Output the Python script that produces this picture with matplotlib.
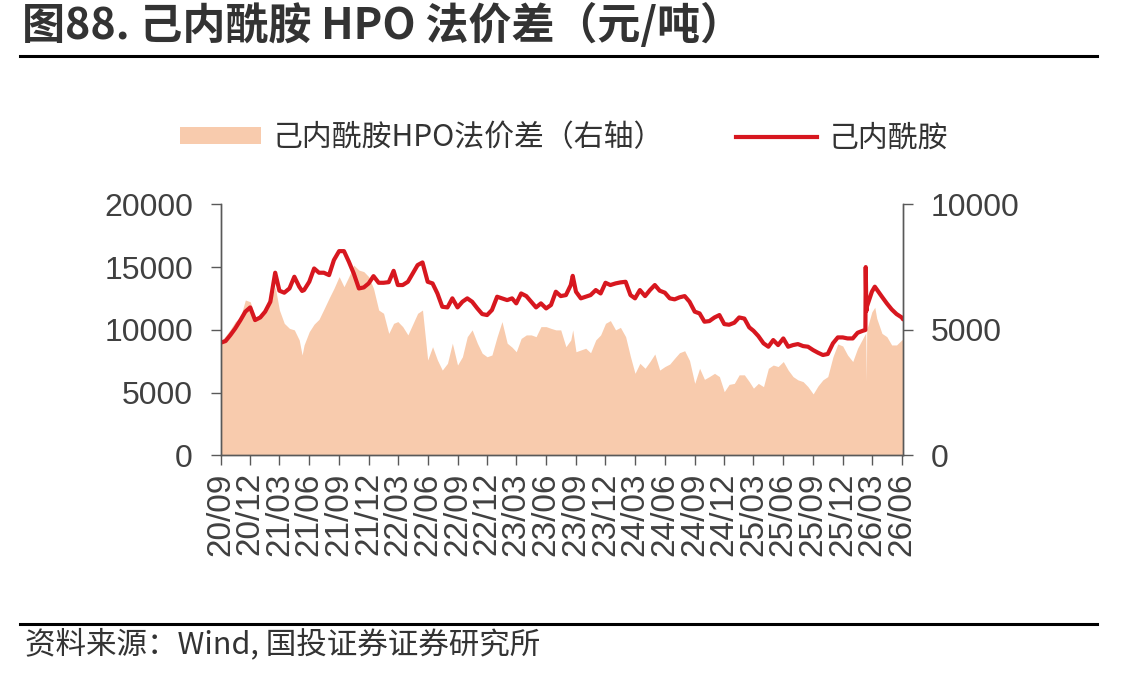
import pandas as pd
import matplotlib
matplotlib.use("Agg")
import matplotlib.pyplot as plt
import matplotlib.dates as mdates
from matplotlib.patches import Patch
from matplotlib.lines import Line2D

# dates (semi-monthly readings, plus a few extra points at spikes)
dates = ['2020-09-01', '2020-09-16', '2020-10-01', '2020-10-16', '2020-11-01', '2020-11-16', '2020-12-01', '2020-12-16',
         '2021-01-01', '2021-01-16', '2021-02-01', '2021-02-16', '2021-03-01', '2021-03-16', '2021-04-01', '2021-04-16',
         '2021-05-01', '2021-05-10', '2021-05-16', '2021-06-01', '2021-06-16', '2021-07-01', '2021-07-16', '2021-08-01', '2021-08-16',
         '2021-09-01', '2021-09-16', '2021-10-01', '2021-10-16', '2021-11-01', '2021-11-16', '2021-12-01', '2021-12-16',
         '2022-01-01', '2022-01-16', '2022-02-01', '2022-02-16', '2022-03-01', '2022-03-16', '2022-04-01', '2022-04-16',
         '2022-05-01', '2022-05-16', '2022-06-01', '2022-06-16', '2022-07-01', '2022-07-16', '2022-08-01', '2022-08-16',
         '2022-09-01', '2022-09-16', '2022-10-01', '2022-10-16', '2022-11-01', '2022-11-16', '2022-12-01', '2022-12-16',
         '2023-01-01', '2023-01-16', '2023-02-01', '2023-02-16', '2023-03-01', '2023-03-16', '2023-04-01', '2023-04-16',
         '2023-05-01', '2023-05-16', '2023-06-01', '2023-06-16', '2023-07-01', '2023-07-16', '2023-08-01', '2023-08-16', '2023-08-22',
         '2023-09-01', '2023-09-16', '2023-10-01', '2023-10-16', '2023-11-01', '2023-11-16', '2023-12-01', '2023-12-16',
         '2024-01-01', '2024-01-16', '2024-02-01', '2024-02-16', '2024-03-01', '2024-03-16', '2024-04-01', '2024-04-16',
         '2024-05-01', '2024-05-16', '2024-06-01', '2024-06-16', '2024-07-01', '2024-07-16', '2024-08-01', '2024-08-16',
         '2024-09-01', '2024-09-16', '2024-10-01', '2024-10-16', '2024-11-01', '2024-11-16', '2024-12-01', '2024-12-16',
         '2025-01-01', '2025-01-16', '2025-02-01', '2025-02-16', '2025-03-01', '2025-03-16', '2025-04-01', '2025-04-16',
         '2025-05-01', '2025-05-16', '2025-06-01', '2025-06-16', '2025-07-01', '2025-07-16', '2025-08-01', '2025-08-16',
         '2025-09-01', '2025-09-16', '2025-10-01', '2025-10-16', '2025-11-01', '2025-11-16', '2025-12-01', '2025-12-16',
         '2026-01-01', '2026-01-16', '2026-02-01', '2026-02-09', '2026-02-10', '2026-02-12', '2026-02-13', '2026-03-01', '2026-03-10', '2026-03-16',
         '2026-04-01', '2026-04-16', '2026-05-01', '2026-05-16', '2026-06-01', '2026-06-05']

# 己内酰胺 price (left axis)
cpl_price = [8980, 9110, 9590, 10120, 10780, 11450, 11790, 10780,
             10990, 11450, 12240, 14550, 13120, 12960, 13300, 14230,
             13440, 13100, 13170, 13830, 14890, 14550, 14550, 14360, 15560,
             16270, 16270, 15430, 14500, 13300, 13380, 13700, 14280,
             13750, 13750, 13800, 14700, 13570, 13570, 13830, 14500,
             15160, 15370, 13830, 13700, 12900, 11840, 11790, 12510,
             11790, 12240, 12510, 12240, 11710, 11260, 11180, 11580,
             12640, 12510, 12370, 12510, 12110, 12900, 12690, 12240,
             11790, 12110, 11710, 11980, 13040, 12690, 12770, 13570, 14300,
             13040, 12510, 12640, 12770, 13170, 12900, 13750, 13570,
             13700, 13780, 13830, 12770, 12510, 13170, 12690, 13170,
             13570, 13120, 12960, 12510, 12430, 12590, 12690, 12240,
             11450, 11310, 10650, 10700, 10990, 11180, 10460, 10410,
             10570, 10990, 10900, 10200, 9930, 9510, 8930, 8660,
             9190, 8790, 9320, 8660, 8790, 8870, 8710, 8660,
             8390, 8180, 8000, 8080, 8930, 9400, 9400, 9320,
             9320, 9770, 9930, 9990, 15000, 11500, 11800, 13040, 13440, 13220,
             12640, 12110, 11630, 11260, 10990, 10840]

# HPO route spread (right axis)
hpo_spread = [4530, 4760, 5020, 5330, 5500, 6190, 6120, 5530,
              5460, 5680, 6120, 6720, 5790, 5260, 5060, 5000,
              4600, 4000, 4400, 4930, 5230, 5420, 5820, 6260, 6650,
              7120, 6720, 7120, 7580, 7380, 7320, 7120, 6650,
              5790, 5660, 4860, 5260, 5330, 5130, 4800, 5230,
              5660, 5790, 3800, 4330, 3800, 3400, 3670, 4470,
              3600, 3930, 4730, 5000, 4470, 4070, 3930, 4000,
              4730, 5330, 4470, 4310, 4130, 4660, 4800, 4800,
              4730, 5130, 5130, 5060, 5000, 5000, 4330, 4600, 5000,
              4130, 4200, 4270, 4090, 4600, 4800, 5260, 5370,
              5000, 5100, 4730, 3930, 3270, 3670, 3470, 3740,
              4040, 3400, 3540, 3640, 3870, 4090, 4170, 3780,
              2870, 3470, 3030, 3140, 3270, 3140, 2540, 2830,
              2870, 3210, 3210, 2940, 2680, 2870, 2740, 3470,
              3600, 3540, 3740, 3400, 3140, 3010, 2940, 2740,
              2450, 2770, 3010, 3140, 3930, 4440, 4360, 4000,
              3740, 4270, 4660, 4850, 4900, 2950, 5000, 5720, 5900, 5460,
              4860, 4730, 4400, 4400, 4600, 4620]

title = '图88. 己内酰胺 HPO 法价差（元/吨）'
label_spread = '己内酰胺HPO法价差（右轴）'
label_price = '己内酰胺'
source = '资料来源：Wind, 国投证券证券研究所'

cjk = ['Noto Sans CJK SC', 'DejaVu Sans']
num_font = 'Liberation Sans'
txt_color = '#404040'
red = '#D7171F'
peach = '#F8CBAD'

x = pd.to_datetime(dates)

fig = plt.figure(figsize=(11.47, 6.78), dpi=100)
ax = fig.add_axes([0.1924, 0.3282, 0.5949, 0.3705])
ax2 = ax.twinx()

ax2.fill_between(x, 0, hpo_spread, color=peach, linewidth=0)
ax.plot(x, cpl_price, color=red, linewidth=3.0, solid_joinstyle='round', solid_capstyle='round')

# line drawn above the area
ax.set_zorder(ax2.get_zorder() + 1)
ax.patch.set_visible(False)

ax.set_ylim(0, 20000)
ax.set_yticks([0, 5000, 10000, 15000, 20000])
ax2.set_ylim(0, 10000)
ax2.set_yticks([0, 5000, 10000])
ax.set_xlim(pd.Timestamp('2020-09-01'), pd.Timestamp('2026-06-05'))

ticks = pd.date_range('2020-09-01', '2026-06-01', freq='3MS')
ax.set_xticks(ticks)
ax.xaxis.set_major_formatter(mdates.DateFormatter('%y/%m'))

for a in (ax, ax2):
    for s in a.spines.values():
        s.set_color('#595959')
        s.set_linewidth(1.0)
    a.spines['top'].set_visible(False)
    a.tick_params(axis='both', direction='out', length=7, width=1.0, color='#595959',
                  labelcolor=txt_color, labelsize=23, pad=13)
    for lab in a.get_yticklabels():
        lab.set_fontfamily(num_font)

ax.tick_params(axis='x', pad=5, labelsize=24, labelrotation=90)
for lab in ax.get_xticklabels():
    lab.set_fontfamily(num_font)
    lab.set_verticalalignment('top')

# legend
handles = [Patch(facecolor=peach, edgecolor='none'),
           Line2D([0], [0], color=red, linewidth=3.0)]
fig.legend(handles, [label_spread, label_price], loc='center', bbox_to_anchor=(0.492, 0.7965),
           ncol=2, frameon=False, handlelength=2.7, handleheight=0.5, handletextpad=0.4,
           columnspacing=2.4, prop={'family': cjk, 'size': 21.5}, labelcolor='#333333')

# title, rules and source
fig.text(0.0192, 0.963, title, fontsize=31, fontweight='bold', family=cjk,
         color='#333333', va='center', ha='left')
fig.add_artist(Line2D([0.0174, 0.9564], [0.9174, 0.9174], color='black', linewidth=2.2))
fig.add_artist(Line2D([0.0174, 0.9564], [0.0796, 0.0796], color='black', linewidth=2.2))
fig.text(0.0218, 0.049, source, fontsize=22, family=cjk, color='#333333', va='center', ha='left')

fig.savefig('out.png', dpi=100)
